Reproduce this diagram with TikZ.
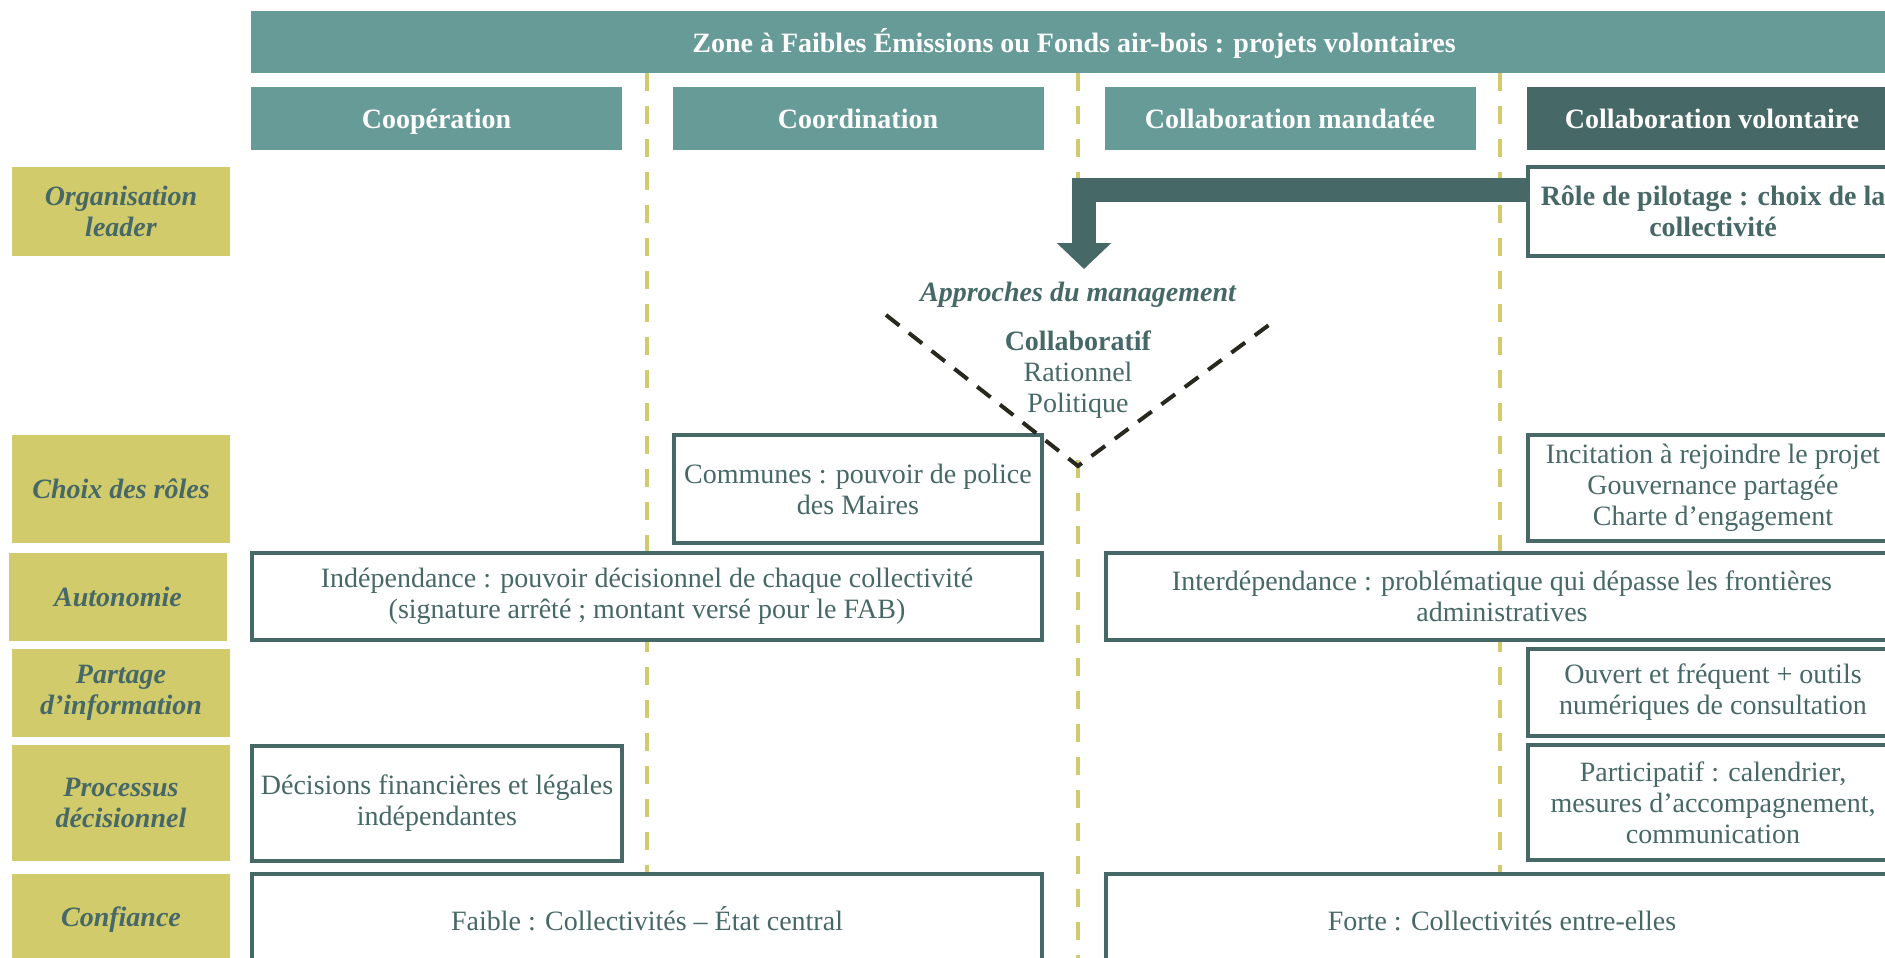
\documentclass[tikz,border=0pt]{standalone}
\usepackage{fontspec}
\setmainfont{Liberation Serif}
\usetikzlibrary{arrows.meta}

\definecolor{headteal}{RGB}{103,155,152}
\definecolor{darkteal}{RGB}{70,104,102}
\definecolor{olive}{RGB}{210,203,108}
\definecolor{vdark}{RGB}{40,40,30}
\newcommand{\basefont}{\fontsize{14}{15.5}\selectfont}

\tikzset{
  head/.style={fill=headteal, text=white, font=\basefont\bfseries, minimum width=185.5pt, minimum height=31.5pt, text height=13pt, text depth=3pt},
  rowlabel/.style={fill=olive, text=darkteal, font=\basefont\bfseries\itshape, align=center, minimum width=109pt},
  cell/.style={draw=darkteal, line width=2pt, fill=white, text=darkteal, font=\basefont, align=center, inner sep=2pt},
  sepline/.style={olive, line width=2pt, dash pattern=on 9pt off 7.5pt},
  vline/.style={vdark, line width=2pt, dash pattern=on 8.5pt off 6pt},
  bigarrow/.style={darkteal, line width=12pt, -{Triangle[length=13pt, width=26.5pt]}}
}

\begin{document}
\begin{tikzpicture}[x=0.5pt, y=-0.5pt]
    \useasboundingbox (0,0) rectangle (1885,958);
    \clip (0,0) rectangle (1885,958);

    % column separators
    \foreach \x in {647,1500}
        \draw[sepline] (\x,73) -- (\x,958);
    \draw[sepline] (1078,73) -- (1078,262);
    \draw[sepline] (1078,460) -- (1078,958);

    % title and columns
    \node[head, minimum width=823pt, minimum height=31pt] (zfe) at (1074,42) {Zone à Faibles Émissions ou Fonds air-bois : projets volontaires};
    \node[head] (coop) at (436.5,118.5) {Coopération};
    \node[head] (coord) at (858,118.5) {Coordination};
    \node[head] (mandat) at (1290,118.5) {Collaboration mandatée};
    \node[head, fill=darkteal] (volont) at (1712,118.5) {Collaboration volontaire};

    % row labels
    \node[rowlabel, minimum height=44.5pt] (orga) at (121,211.5) {Organisation\\leader};
    \node[rowlabel, minimum height=54pt] (choix) at (121,489) {Choix des rôles};
    \node[rowlabel, minimum height=44pt] (auto) at (118,597) {Autonomie};
    \node[rowlabel, minimum height=44pt] (partage) at (121,693) {Partage\\d’information};
    \node[rowlabel, minimum height=58pt] (proc) at (121,803) {Processus\\décisionnel};
    \node[rowlabel, minimum height=46pt] (conf) at (121,920) {Confiance};

    % cells
    \node[cell, font=\basefont\bfseries, minimum width=185pt, minimum height=44.5pt] (role) at (1713,211.5) {Rôle de pilotage : choix de la\\collectivité};
    \node[cell, minimum width=184pt, minimum height=54pt] (communes) at (858,489) {Communes : pouvoir de police\\des Maires};
    \node[cell, minimum width=185pt, minimum height=53pt] (incit) at (1713,488) {Incitation à rejoindre le projet\\Gouvernance partagée\\Charte d’engagement};
    \node[cell, minimum width=395pt, minimum height=43.5pt] (indep) at (647,596.5) {Indépendance : pouvoir décisionnel de chaque collectivité\\(signature arrêté ; montant versé pour le FAB)};
    \node[cell, minimum width=396pt, minimum height=43.5pt] (interdep) at (1502,596.5) {Interdépendance : problématique qui dépasse les frontières\\administratives};
    \node[cell, minimum width=185pt, minimum height=43.5pt] (ouvert) at (1713,692.5) {Ouvert et fréquent + outils\\numériques de consultation};
    \node[cell, minimum width=185pt, minimum height=57.5pt] (decis) at (437,803.5) {Décisions financières et légales\\indépendantes};
    \node[cell, minimum width=185pt, minimum height=57.5pt] (particip) at (1713,802.5) {Participatif : calendrier,\\mesures d’accompagnement,\\communication};
    \node[cell, minimum width=395pt, minimum height=46pt, text height=13pt, text depth=3pt] (faible) at (647,920) {Faible : Collectivités – État central};
    \node[cell, minimum width=396pt, minimum height=46pt, text height=13pt, text depth=3pt] (forte) at (1502,920) {Forte : Collectivités entre-elles};

    % management approaches
    \coordinate (tip) at (1084,269);
    \draw[bigarrow] ([yshift=-12.5pt]role.north west) -| (tip);
    \node[text=darkteal, font=\basefont\bfseries\itshape] (approches) at (1078,295) {Approches du management};
    \node[text=darkteal, font=\basefont, align=center] (mgmt) at (1078,375) {\textbf{Collaboratif}\\Rationnel\\Politique};
    \coordinate (vl) at (886,315);
    \coordinate (vb) at (1078,466);
    \coordinate (vr) at (1277,319);
    \draw[vline] (vl) -- (vb) -- (vr);
\end{tikzpicture}
\end{document}
